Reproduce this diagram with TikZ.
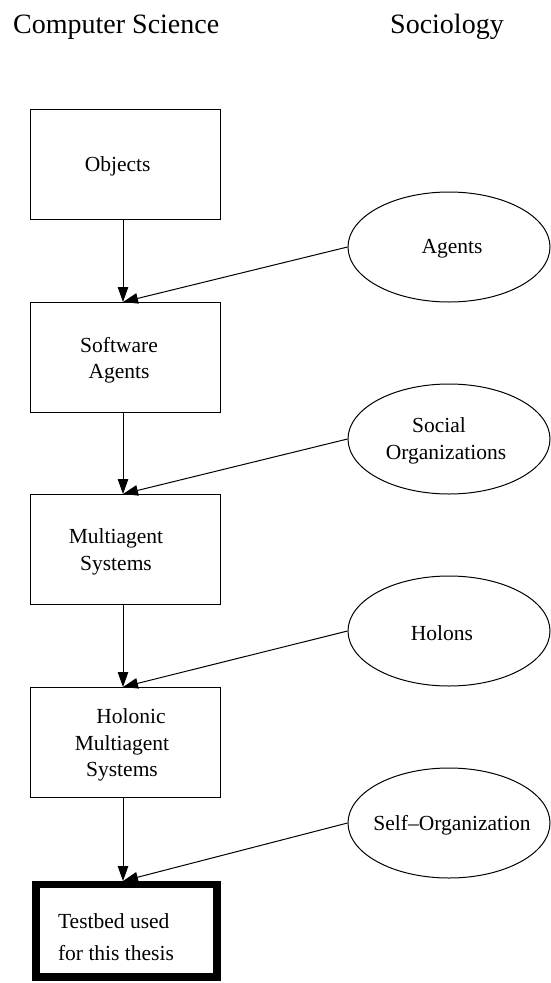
\documentclass[tikz,border=0pt]{standalone}
\usepackage{fontspec}
\setmainfont{Liberation Serif}
\usetikzlibrary{arrows.meta,shapes.geometric}
\begin{document}
\begin{tikzpicture}[x=1pt,y=-1pt,
  box/.style={draw,line width=1pt,minimum width=190pt,minimum height=110pt,inner sep=0pt},
  thickbox/.style={draw,line width=7.5pt,minimum width=181pt,minimum height=92.5pt,inner sep=0pt},
  oval/.style={draw,ellipse,line width=1pt,minimum width=202pt,minimum height=110pt,inner sep=0pt},
  txt/.style={font=\fontsize{21.5}{26.5}\selectfont,align=center,inner sep=0pt},
  head/.style={font=\fontsize{28}{32}\selectfont,inner sep=0pt,anchor=base west},
  arr/.style={line width=1pt,-{Triangle[length=15pt,width=10.5pt]}}]
\useasboundingbox (0,0) rectangle (550,983);
% headers
\node[head] (hcs) at (13,33) {Computer Science};
\node[head] (hso) at (390,33) {Sociology};
% boxes
\node[box] (b1) at (125.7,164) {};
\node[box] (b2) at (125.7,357) {};
\node[box] (b3) at (125.7,549) {};
\node[box] (b4) at (125.7,742) {};
\node[thickbox] (b5) at (126.6,930.8) {};
\node[txt] (t1) at (117.7,166) {Objects};
\node[txt] (t2) at (119,360) {Software\\Agents};
\node[txt] (t3) at (116,552) {Multiagent\\Systems};
\node[txt] (t4) at (122,745) {\hspace*{18pt}Holonic\\Multiagent\\Systems};
\node[txt,align=left] (t5) at (116,937) {Testbed used\\[5pt]for this thesis};
% ellipses
\node[oval] (e1) at (449,247) {};
\node[oval] (e2) at (449,439) {};
\node[oval] (e3) at (449,631) {};
\node[oval] (e4) at (449,823) {};
\node[txt] (l1) at (452,249) {Agents};
\node[txt] (l2) at (446,441) {\hspace*{-14pt}Social\\Organizations};
\node[txt] (l3) at (442,633) {Holons};
\node[txt] (l4) at (452,825) {Self--Organization};
% arrows
\coordinate (s1) at (123,219);
\coordinate (n2) at (123,302);
\coordinate (s2) at (123,412);
\coordinate (n3) at (123,494);
\coordinate (s3) at (123,604);
\coordinate (n4) at (123,687);
\coordinate (s4) at (123,797);
\coordinate (n5) at (123,881);
\draw[arr] (s1) -- (n2);
\draw[arr] (s2) -- (n3);
\draw[arr] (s3) -- (n4);
\draw[arr] (s4) -- (n5);
\draw[arr] (e1.west) -- (n2);
\draw[arr] (e2.west) -- (n3);
\draw[arr] (e3.west) -- (n4);
\draw[arr] (e4.west) -- (n5);
\end{tikzpicture}
\end{document}
